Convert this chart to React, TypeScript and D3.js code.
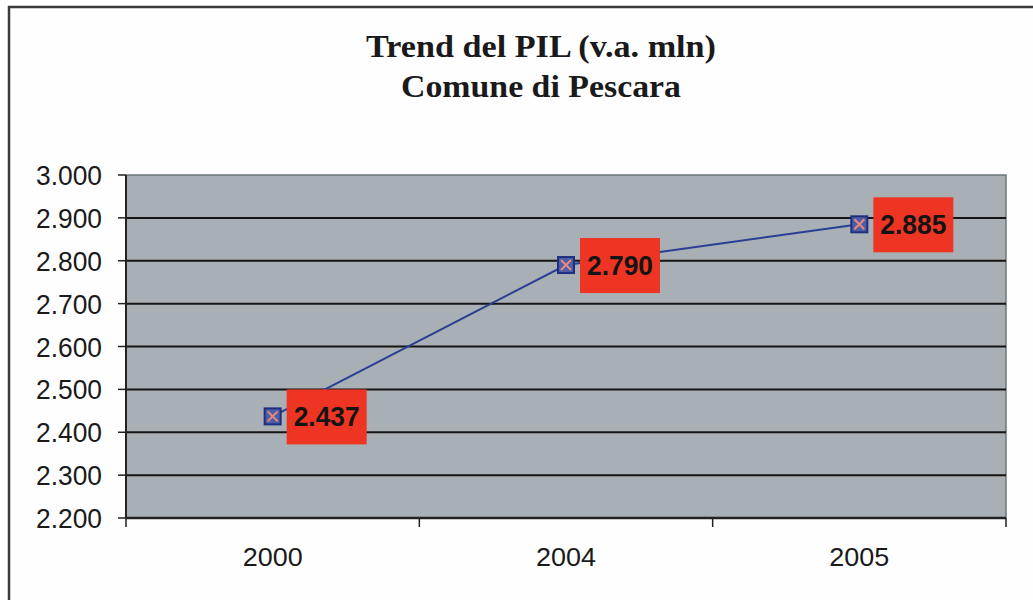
import React from "react";
import * as d3 from "d3";

const categories = ["2000", "2004", "2005"];
const values = [2437, 2790, 2885];
const valueLabels = ["2.437", "2.790", "2.885"];
const yTicks = [2200, 2300, 2400, 2500, 2600, 2700, 2800, 2900, 3000];
const titleLines = ["Trend del PIL (v.a. mln)", "Comune di Pescara"];
const titleWidths = [350, 280];

const W = 1033;
const H = 600;
const plot = { left: 126, right: 1006, top: 175, bottom: 518 };

export default function App() {
  const x = d3.scaleBand<string>().domain(categories).range([plot.left, plot.right]).padding(0);
  const y = d3.scaleLinear().domain([2200, 3000]).range([plot.bottom, plot.top]);
  const fmt = (v: number) => d3.format(",")(v).replace(/,/g, ".");
  const cx = (c: string) => (x(c) as number) + x.bandwidth() / 2;
  const line = d3
    .line<number>()
    .x((_, i) => cx(categories[i]))
    .y((d) => y(d));
  const bounds = [...categories.map((c) => x(c) as number), plot.right];

  return (
    <svg
      width={W}
      height={H}
      style={{ position: "absolute", left: 0, top: 0, background: "#fefefe" }}
    >
      <rect x={0} y={0} width={W} height={H} fill="#fefefe" />
      <path d={`M9,${H} L9,7 L${W},7`} fill="none" stroke="#3a3a3a" strokeWidth={2.5} />
      {titleLines.map((t, i) => (
        <text
          key={t}
          x={541}
          y={57 + i * 40}
          textAnchor="middle"
          fontFamily="'Liberation Serif', 'Times New Roman', serif"
          fontWeight="bold"
          fontSize={31}
          fill="#1a1a1a"
          textLength={titleWidths[i]}
          lengthAdjust="spacingAndGlyphs"
        >
          {t}
        </text>
      ))}
      <rect
        x={plot.left}
        y={plot.top}
        width={plot.right - plot.left}
        height={plot.bottom - plot.top}
        fill="#a8b0b5"
        stroke="#6e7478"
        strokeWidth={1.5}
      />
      {yTicks.map((t) => (
        <g key={t}>
          {t > 2200 && t < 3000 && (
            <line x1={plot.left} x2={plot.right} y1={y(t)} y2={y(t)} stroke="#151515" strokeWidth={2} />
          )}
          <line x1={plot.left - 8} x2={plot.left} y1={y(t)} y2={y(t)} stroke="#222" strokeWidth={1.5} />
          <text
            x={plot.left - 24}
            y={y(t) + 10}
            textAnchor="end"
            fontFamily="'Liberation Sans', Arial, sans-serif"
            fontSize={27}
            fill="#1a1a1a"
            textLength={66}
            lengthAdjust="spacingAndGlyphs"
          >
            {fmt(t)}
          </text>
        </g>
      ))}
      <line x1={plot.left} x2={plot.left} y1={plot.top} y2={plot.bottom} stroke="#222" strokeWidth={2} />
      <line x1={plot.left} x2={plot.right} y1={plot.bottom} y2={plot.bottom} stroke="#222" strokeWidth={2.5} />
      {bounds.map((b, i) => (
        <line key={i} x1={b} x2={b} y1={plot.bottom} y2={plot.bottom + 9} stroke="#222" strokeWidth={1.5} />
      ))}
      {categories.map((c) => (
        <text
          key={c}
          x={cx(c)}
          y={566}
          textAnchor="middle"
          fontFamily="'Liberation Sans', Arial, sans-serif"
          fontSize={26}
          fill="#1a1a1a"
          textLength={60}
          lengthAdjust="spacingAndGlyphs"
        >
          {c}
        </text>
      ))}
      <path d={line(values) || ""} fill="none" stroke="#2a3f94" strokeWidth={2} />
      {values.map((v, i) => {
        const px = cx(categories[i]);
        const py = y(v);
        const s = 8;
        return (
          <g key={i}>
            <rect x={px + 14} y={py - 27} width={80} height={55} fill="#ee3524" />
            <text
              x={px + 54}
              y={py + 10}
              textAnchor="middle"
              fontFamily="'Liberation Sans', Arial, sans-serif"
              fontWeight="bold"
              fontSize={27}
              fill="#141414"
              textLength={66}
              lengthAdjust="spacingAndGlyphs"
            >
              {valueLabels[i]}
            </text>
            <rect x={px - s} y={py - s} width={2 * s} height={2 * s} fill="#4d5ea8" stroke="#1f2f80" strokeWidth={2} />
            <line x1={px - 5} y1={py - 5} x2={px + 5} y2={py + 5} stroke="#e8887a" strokeWidth={2} />
            <line x1={px - 5} y1={py + 5} x2={px + 5} y2={py - 5} stroke="#e8887a" strokeWidth={2} />
          </g>
        );
      })}
    </svg>
  );
}
